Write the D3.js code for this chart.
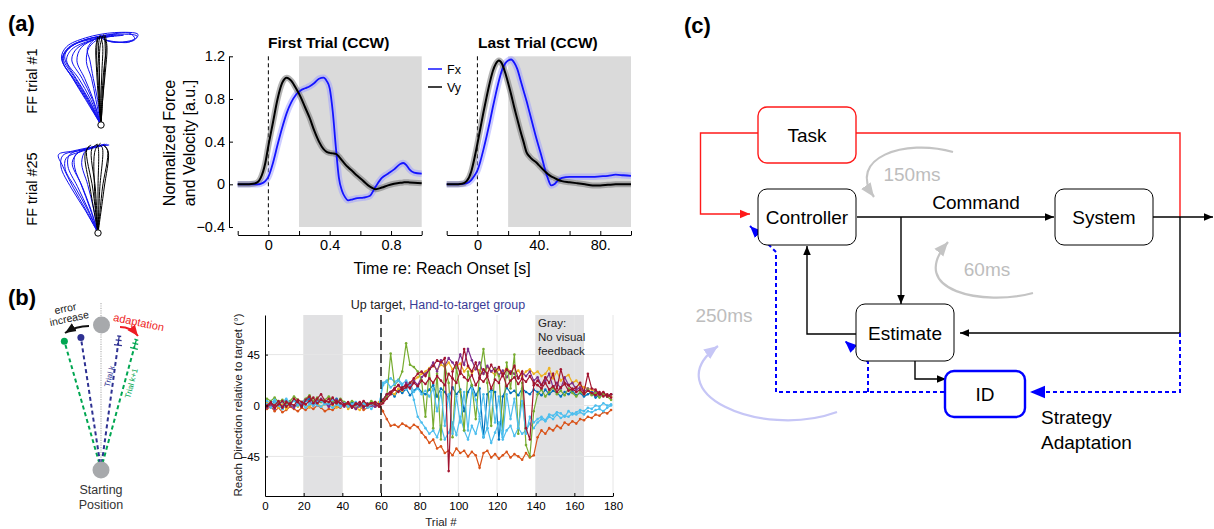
<!DOCTYPE html>
<html>
<head>
<meta charset="utf-8">
<script src="https://cdn.jsdelivr.net/npm/d3@7"></script>
<style>
  body { margin: 0; background: #fff; }
  svg { display: block; }
  text { font-family: "Liberation Sans", Arial, sans-serif; }
</style>
</head>
<body>
<svg id="fig" width="1214" height="529"></svg>
<script>
// ---------------- data ----------------

// (a) hand paths, cm relative to start (x right, y up)
const ff1Blue = [
  [[0,0],[-1.5,2.9],[-3,5.3],[-4.4,7.6],[-3.8,8.8],[-1.8,9.7],[1.5,10.3],[4.2,10.1],[3.2,9.4],[0.3,9.7]],
  [[0,0],[-1.2,2.9],[-2.6,5.3],[-4.0,7.3],[-3.4,8.6],[-1.2,9.6],[1.0,10.1],[0.2,10]],
  [[0,0],[-1.0,2.9],[-2.2,5.3],[-3.4,7.4],[-2.8,8.7],[-0.8,9.7],[0.2,10]],
  [[0,0],[-1.7,2.9],[-3.2,5.2],[-4.5,7.3],[-4.2,8.3],[-2.6,9.4],[0.5,10.2],[3.4,10.4],[3.9,9.8],[1.5,9.4],[0.2,9.8]],
  [[0,0],[-0.6,2.9],[-1.1,5.3],[-1.7,7.2],[-1.4,8.8],[-0.3,9.8],[0.1,10]],
  [[0,0],[-1.4,2.9],[-2.9,5.3],[-4.2,7.5],[-4.0,8.4],[-2.4,9.5],[0.4,10.1],[2.6,10.2],[0.5,10]],
  [[0,0],[-0.9,2.9],[-1.9,5.3],[-2.8,7.3],[-2.3,8.8],[-0.6,9.8],[0.3,10.1]],
  [[0,0],[-1.6,2.9],[-3.1,5.2],[-4.4,7.1],[-4.3,8.0],[-3.2,9.1],[-0.8,9.8],[1.5,10.1],[0.2,10]],
  [[0,0],[-1.8,2.9],[-3.3,5.3],[-4.6,7.6],[-4.0,8.9],[-1.8,9.9],[1.6,10.5],[4.3,10.3],[3.8,9.6],[1.0,9.5],[0.1,9.9]],
  [[0,0],[-0.4,2.9],[-0.9,5.3],[-1.3,7.4],[-1.6,8.6],[-0.8,9.7],[0,10]]
]
const ff1Black = [
  [[0,0],[-0.2,3],[-0.4,6],[-0.5,8.5],[-0.3,9.9],[0,10.1]],
  [[0,0],[0.2,3],[0.4,6],[0.5,8.5],[0.3,10],[0,10]],
  [[0,0],[-0.1,3],[-0.2,6],[-0.3,9],[-0.1,10.2]],
  [[0,0],[0.1,3],[0.3,6],[0.6,9],[0.3,10.3]],
  [[0,0],[-0.3,3],[-0.5,6],[-0.6,8.8],[-0.4,10]],
  [[0,0],[0,3],[0.1,6],[0.2,9],[0,10]],
  [[0,0],[0.2,3],[0.5,6],[0.7,8.8],[0.5,10.2]],
  [[0,0],[-0.2,3],[-0.2,6],[-0.1,9],[0.2,10.1]]
]
const ff25Blue = [
  [[0,0],[-1.4,2.6],[-2.9,5.2],[-4.1,7.6],[-4.6,8.9],[-3,9.3],[-0.5,9.8],[1.2,10]],
  [[0,0],[-1.1,2.6],[-2.4,5.3],[-3.5,7.6],[-3.3,8.9],[-1.2,9.6],[0.8,10.1]],
  [[0,0],[-0.8,2.6],[-1.8,5.2],[-2.7,7.4],[-2.6,8.9],[-0.6,9.7],[0.5,10]],
  [[0,0],[-1.5,2.6],[-3.1,5.1],[-4.3,7.5],[-4.1,8.8],[-2,9.4],[0.3,9.9],[1.3,10]],
  [[0,0],[-0.9,2.7],[-2,5.6],[-3,8],[-2.2,9.2],[0,9.9]],
  [[0,0],[-0.5,2.7],[-1.2,5.5],[-1.9,8],[-1.4,9.4],[0.2,10]],
  [[0,0],[-1.2,2.6],[-2.6,5.1],[-3.8,7.2],[-3.7,8.5],[-1.8,9.3],[0,9.8],[1,10.1]]
]
const ff25Black = [
  [[0,0],[-0.6,5],[-1.3,9.5],[-0.8,10]],
  [[0,0],[0.5,5],[1.1,9.4],[0.6,10]],
  [[0,0],[-0.3,5],[-0.7,9.6],[0,10.1]],
  [[0,0],[0.2,5],[0.5,9.7],[0.2,10]],
  [[0,0],[-0.9,5],[-1.5,9],[-1,9.9]],
  [[0,0],[0,5],[0,9.8],[-0.2,10.1]],
  [[0,0],[0.7,5],[1.2,9.2],[0.8,9.9]],
  [[0,0],[-0.4,5],[-0.3,9.5],[0.3,10.2]]
]

// (a) first trial, time in s
const firstTime = [-0.2,-0.15,-0.1,-0.07,-0.05,-0.02,0,0.03,0.06,0.09,0.12,0.15,0.18,0.21,0.24,0.27,0.3,0.33,0.36,0.38,0.40,0.42,0.44,0.46,0.48,0.5,0.52,0.55,0.58,0.62,0.66,0.7,0.74,0.78,0.82,0.86,0.88,0.9,0.92,0.95,1.0]
const firstVy = [0,0,0.005,0.02,0.06,0.2,0.36,0.58,0.8,0.95,1.0,0.97,0.9,0.82,0.72,0.62,0.5,0.4,0.33,0.305,0.295,0.29,0.285,0.26,0.225,0.19,0.16,0.12,0.08,0.03,-0.02,-0.045,-0.03,-0.01,0.005,0.015,0.018,0.02,0.018,0.015,0.01]
const firstFx = [0,0,0,0,0.005,0.03,0.07,0.2,0.37,0.53,0.67,0.77,0.84,0.88,0.9,0.92,0.95,0.99,1.0,0.97,0.9,0.68,0.35,0.06,-0.06,-0.12,-0.15,-0.14,-0.13,-0.125,-0.11,-0.02,0.06,0.1,0.14,0.19,0.2,0.18,0.14,0.11,0.1]

// (a) last trial
const lastTime = [-20,-15,-10,-7,-4,-2,0,2,4,6,8,10,12,14,16,18,20,22,24,26,28,30,32,34,36,38,40,42,44,46,48,50,52,55,60,65,70,75,80,85,90,95,100]
const lastVy = [0,0,0.005,0.03,0.12,0.24,0.38,0.53,0.68,0.82,0.95,1.06,1.13,1.16,1.13,1.05,0.95,0.84,0.72,0.61,0.5,0.4,0.3,0.26,0.23,0.21,0.18,0.15,0.12,0.095,0.075,0.06,0.045,0.03,0.02,0.01,0,-0.01,-0.01,-0.005,0,0,0]
const lastFx = [0,0,0.002,0.01,0.04,0.08,0.13,0.22,0.33,0.45,0.58,0.72,0.85,0.97,1.07,1.13,1.16,1.17,1.14,1.08,0.98,0.88,0.78,0.67,0.56,0.45,0.35,0.25,0.14,0.05,-0.01,0,0.03,0.06,0.07,0.07,0.07,0.07,0.075,0.08,0.09,0.085,0.08]

// (b) reach angles in the sketch (deg, + = clockwise)
const errorAngles = [-16, -8.7]
const adaptAngles = [7.8, 15.3]

// (b) reach direction, every other trial
const trials = d3.range(1, 180, 2)
const feedbackOff = [[20, 40], [140, 165]]
const reachBlue = [2,-1,4,0,-3,3,1,5,2,-2,4,6,3,1,5,2,0,3,6,2,1,-1,3,0,2,-2,1,3,0,2,
  5,10,12,8,14,11,15,9,13,16,12,10,14,18,8,15,12,6,16,10,14,-5,12,18,9,15,-28,10,14,12,-30,8,16,11,13,9,15,12,10,14,
  12,9,14,10,13,11,8,12,10,13,9,11,8,10,12,7,9,11,8,10]
const reachOrange = [-3,-1,-5,-2,-6,-4,-1,-3,-5,-2,-4,-1,-3,0,-2,-5,-3,-4,-1,-2,1,-2,0,-3,-1,-4,-2,0,-1,1,
  -5,-12,-18,-17,-19,-16,-18,-20,-17,-19,-24,-28,-33,-30,-38,-36,-42,-40,-44,-38,-42,-40,-45,-41,-44,-55,-42,-40,-46,-43,-47,-44,-41,-46,-43,-45,-48,-42,-46,-44,
  -28,-22,-25,-20,-22,-18,-20,-15,-17,-14,-16,-12,-13,-10,-11,-8,-9,-6,-7,-4]
const reachYellow = [3,0,2,-2,1,-3,2,0,-1,3,1,-2,4,2,-1,1,3,0,-2,1,2,-3,0,-2,-4,1,-1,2,0,3,
  4,8,12,10,15,13,18,20,22,25,28,30,33,35,32,36,34,38,32,35,37,30,34,29,33,31,28,34,30,27,32,29,33,30,28,31,26,30,32,28,
  30,26,28,33,24,30,22,25,27,20,22,18,16,15,14,12,10,11,9,8]
const reachPurple = [-2,1,-3,2,-1,4,0,-2,3,1,5,3,0,4,6,2,-1,3,5,1,-1,2,0,-3,1,-2,2,0,-1,1,
  3,8,12,15,18,14,20,16,22,18,25,28,32,38,30,40,35,42,38,33,45,36,50,40,32,38,28,35,30,33,27,31,25,30,28,24,29,26,30,22,
  25,18,22,28,16,20,15,25,18,20,14,16,12,15,10,13,9,11,8,10]
const reachGreen = [6,4,7,3,5,2,4,8,5,3,6,9,4,7,3,5,8,4,2,6,3,1,4,2,0,3,1,4,2,1,
  3,8,46,18,22,30,55,36,34,30,22,-10,32,-20,28,-30,36,20,-28,34,12,-22,30,18,-12,28,50,20,-18,32,26,-22,38,15,45,-25,20,-35,-45,-5,
  10,14,8,12,16,10,13,9,15,11,8,12,10,14,9,11,7,10,8,5]
const reachCyanA = [1,-2,3,0,-3,1,2,-1,0,3,-2,1,4,0,-1,2,0,-2,1,-1,3,0,-2,1,-1,2,0,-3,1,0,
  20,22,24,21,23,19,22,18,5,-10,-15,-20,-25,-22,-28,-18,-30,-24,-15,-26,-10,-22,-30,-18,-25,-12,-28,-20,-33,-24,-15,-30,-22,-18,-27,-20,-25,-22,-16,-20,
  -15,-12,-14,-10,-12,-8,-11,-9,-10,-7,-8,-6,-8,-5,-6,-4,-3,-5,-2,0]
const reachCyanB = [4,2,5,1,3,6,2,4,1,3,5,2,0,3,4,1,2,5,3,0,2,-1,1,3,0,2,-2,1,3,0,
  18,21,16,19,22,17,14,20,12,15,10,13,8,15,-5,12,-18,10,-25,8,-15,12,-22,15,5,-10,10,-20,12,-15,8,-28,10,-12,6,-20,4,-25,-10,-15,
  -12,-10,-13,-8,-9,-6,-7,-10,-5,-8,-6,-4,-5,-2,-3,0,-1,2,0,1]
const reachRedA = [0,3,-2,1,4,-1,2,0,5,3,1,4,7,2,5,3,6,1,4,2,0,2,-2,1,3,-1,0,2,1,-1,
  2,6,10,14,12,16,18,15,20,17,22,19,24,20,26,22,18,28,24,20,30,25,22,27,18,24,21,26,15,23,20,28,17,22,25,19,24,21,26,20,
  18,15,20,14,17,12,16,19,13,15,12,14,10,13,11,9,12,8,10,7]
const reachRedB = [-1,2,0,4,-2,3,1,6,3,-1,5,8,2,6,10,4,3,7,2,5,1,3,-1,2,0,4,1,2,3,1,
  5,10,12,15,18,14,16,20,24,28,30,26,32,35,40,38,42,-58,30,38,28,50,35,30,38,25,32,28,36,30,34,26,32,28,35,24,30,-20,-30,18,
  22,18,25,20,28,15,32,20,18,14,16,20,12,28,15,14,10,12,8,10]
const reachSeries = [reachBlue, reachOrange, reachYellow, reachCyanA, reachPurple, reachGreen, reachCyanB, reachRedA, reachRedB]
const reachColors = ["#0072BD", "#D95319", "#EDB120", "#4DBEEE", "#7E2F8E", "#77AC30", "#4DBEEE", "#A2142F", "#A2142F"]

// (c) block diagram
const blocks = [
  { name: "Task", x: 758, y: 107, w: 98, h: 56, stroke: "#ff1a1a", sw: 1.4 },
  { name: "Controller", x: 758, y: 189, w: 98, h: 56, stroke: "#000", sw: 1 },
  { name: "System", x: 1055, y: 189, w: 98, h: 56, stroke: "#000", sw: 1 },
  { name: "Estimate", x: 856, y: 304, w: 98, h: 57, stroke: "#000", sw: 1 },
  { name: "ID", x: 945, y: 371, w: 80, h: 46, stroke: "#0000ff", sw: 2.4 }
]

// ---------------- drawing ----------------
const svg = d3.select("#fig")
const defs = svg.append("defs")
function marker(id, color, size) {
  defs.append("marker")
      .attr("id", id)
      .attr("viewBox", "0 0 10 10")
      .attr("refX", 10).attr("refY", 5)
      .attr("markerUnits", "userSpaceOnUse")
      .attr("markerWidth", size).attr("markerHeight", size)
      .attr("orient", "auto")
    .append("path")
      .attr("d", "M0,0.8 L10,5 L0,9.2 Z")
      .attr("fill", color)
}
marker("arK", "#000", 9)
marker("arR", "#ff1a1a", 10)
marker("arB", "#0000ff", 12)
marker("arBbig", "#0000ff", 15)
marker("arG", "#c4c4c4", 14)
marker("arL", "#c6c6f6", 14)
marker("arK2", "#111", 11)
marker("arRed2", "#ee1c24", 11)

function label(t, x, y) {
  svg.append("text").attr("x", x).attr("y", y)
    .attr("font-size", 22).attr("font-weight", "bold").text(t)
}
label("(a)", 8, 31)
label("(b)", 8, 305)
label("(c)", 684, 33)

// ---- (a) hand paths
function drawPaths(blue, black, cx, cy, title) {
  const x = d3.scaleLinear().domain([-5, 5]).range([cx - 43, cx + 43])
  const y = d3.scaleLinear().domain([0, 10]).range([cy, cy - 88])
  const line = d3.line().x(d => x(d[0])).y(d => y(d[1])).curve(d3.curveCatmullRom.alpha(0.5))
  const g = svg.append("g")
  g.selectAll(".b").data(blue).enter().append("path")
      .attr("d", line).attr("fill", "none").attr("stroke", "#1010f0").attr("stroke-width", 1)
  g.selectAll(".k").data(black).enter().append("path")
      .attr("d", line).attr("fill", "none").attr("stroke", "#000").attr("stroke-width", 1)
  g.append("circle").attr("cx", x(0)).attr("cy", y(0)).attr("r", 3.2)
      .attr("fill", "#fff").attr("stroke", "#000").attr("stroke-width", 1)
  svg.append("text")
      .attr("transform", `translate(37,${cy - 44}) rotate(-90)`)
      .attr("text-anchor", "middle").attr("font-size", 14.5).text(title)
}
drawPaths(ff1Blue, ff1Black, 101, 125, "FF trial #1")
drawPaths(ff25Blue, ff25Black, 98, 233, "FF trial #25")

// ---- (a) force / velocity profiles
const yForce = d3.scaleLinear().domain([-0.4, 1.2]).range([227, 56.3])

function drawProfile(opts) {
  const x = opts.x
  const g = svg.append("g")
  g.append("rect")
      .attr("x", x(opts.shade[0])).attr("y", yForce(1.2))
      .attr("width", x(opts.shade[1]) - x(opts.shade[0]))
      .attr("height", yForce(-0.4) - yForce(1.2))
      .attr("fill", "#dadada")
  g.append("line")
      .attr("x1", x(0)).attr("x2", x(0))
      .attr("y1", yForce(1.2)).attr("y2", yForce(-0.4))
      .attr("stroke", "#000").attr("stroke-dasharray", "4,3")
  const mk = vals => d3.line()
      .x((d, i) => x(opts.time[i])).y(d => yForce(d))
      .curve(d3.curveMonotoneX)(vals)
  // shaded error bands
  g.append("path").attr("d", mk(opts.fx)).attr("fill", "none")
      .attr("stroke", "#9b9bff").attr("stroke-opacity", 0.5).attr("stroke-width", 6.5)
      .attr("stroke-linejoin", "round")
  g.append("path").attr("d", mk(opts.vy)).attr("fill", "none")
      .attr("stroke", "#777").attr("stroke-opacity", 0.55).attr("stroke-width", 6)
      .attr("stroke-linejoin", "round")
  g.append("path").attr("d", mk(opts.fx)).attr("fill", "none")
      .attr("stroke", "#1414ff").attr("stroke-width", 1.8)
  g.append("path").attr("d", mk(opts.vy)).attr("fill", "none")
      .attr("stroke", "#000").attr("stroke-width", 2)

  const xAxis = d3.axisBottom(x).tickValues(opts.ticks)
      .tickSize(-4).tickSizeOuter(0).tickPadding(5)
      .tickFormat(d => opts.tickLabels[opts.ticks.indexOf(d)])
  const ax = g.append("g").attr("transform", "translate(0,235)").call(xAxis)
  ax.selectAll("text").attr("font-size", 14.5).attr("font-family", "Liberation Sans, Arial, sans-serif")

  svg.append("text")
      .attr("x", (x.range()[0] + x.range()[1]) / 2 - 1).attr("y", 48)
      .attr("text-anchor", "middle").attr("font-size", 15.5).attr("font-weight", "bold")
      .text(opts.title)
}

const xFirst = d3.scaleLinear().domain([-0.2, 1.0]).range([237.7, 421.7])
const xLast = d3.scaleLinear().domain([-20, 100]).range([446.7, 631])

drawProfile({ x: xFirst, time: firstTime, fx: firstFx, vy: firstVy, shade: [0.2, 1.0],
  ticks: [-0.2, 0, 0.2, 0.4, 0.6, 0.8, 1.0], tickLabels: ["", "0", "", "0.4", "", "0.8", ""],
  title: "First Trial (CCW)" })
drawProfile({ x: xLast, time: lastTime, fx: lastFx, vy: lastVy, shade: [20, 100],
  ticks: [-20, 0, 20, 40, 60, 80, 100], tickLabels: ["", "0", "", "40.", "", "80.", ""],
  title: "Last Trial (CCW)" })

const yAx = svg.append("g").attr("transform", "translate(229,0)")
    .call(d3.axisLeft(yForce).tickValues([-0.4, 0, 0.4, 0.8, 1.2])
      .tickSize(-4).tickSizeOuter(0).tickPadding(4).tickFormat(d => d === 0 ? "0" : d3.format(".1f")(d)))
yAx.selectAll("text").attr("font-size", 14.5).attr("font-family", "Liberation Sans, Arial, sans-serif")

svg.append("text").attr("transform", "translate(175,143) rotate(-90)")
    .attr("text-anchor", "middle").attr("font-size", 16).text("Normalized Force")
svg.append("text").attr("transform", "translate(195,143) rotate(-90)")
    .attr("text-anchor", "middle").attr("font-size", 16).text("and Velocity [a.u.]")
svg.append("text").attr("x", 442).attr("y", 274)
    .attr("text-anchor", "middle").attr("font-size", 16).text("Time re: Reach Onset [s]")

// legend
const legend = svg.append("g")
;[["Fx", "#1414ff", 69], ["Vy", "#000", 87]].forEach(([t, c, yy]) => {
  legend.append("line").attr("x1", 428).attr("x2", 442).attr("y1", yy).attr("y2", yy)
      .attr("stroke", c).attr("stroke-width", 1.5)
  legend.append("text").attr("x", 447).attr("y", yy + 4.5).attr("font-size", 12.5).text(t)
})

// ---- (b) reach sketch
{
  const sx = 101, sy = 469
  const g = svg.append("g")
  g.append("line").attr("x1", sx).attr("x2", sx).attr("y1", 303).attr("y2", sy)
      .attr("stroke", "#b5b5b5").attr("stroke-width", 1.2).attr("stroke-dasharray", "1.2,1.2")
  const pos = (a, r) => [sx + r * Math.sin(a * Math.PI / 180), sy - r * Math.cos(a * Math.PI / 180)]
  const reachCols = ["#00a651", "#2e3192"]
  errorAngles.forEach((a, i) => {
    const [px, py] = pos(a, 133)
    const [qx, qy] = pos(a, 6)
    g.append("line").attr("x1", qx).attr("y1", qy).attr("x2", px).attr("y2", py)
        .attr("stroke", reachCols[i]).attr("stroke-width", 2).attr("stroke-dasharray", "4,3")
    g.append("circle").attr("cx", px).attr("cy", py).attr("r", 3.5).attr("fill", reachCols[i])
  })
  const adaptCols = ["#2e3192", "#00a651"]
  adaptAngles.forEach((a, i) => {
    const [px, py] = pos(a, 127)
    const [qx, qy] = pos(a, 6)
    g.append("line").attr("x1", qx).attr("y1", qy).attr("x2", px).attr("y2", py)
        .attr("stroke", adaptCols[i]).attr("stroke-width", 2).attr("stroke-dasharray", "4,3")
    const m = g.append("g").attr("transform", `translate(${px},${py}) rotate(${a})`)
      .attr("stroke", adaptCols[i]).attr("stroke-width", 1.3).attr("fill", "none")
    m.append("line").attr("x1", -4).attr("x2", 4).attr("y1", 2).attr("y2", 2)
    m.append("line").attr("x1", 0).attr("x2", 0).attr("y1", 2).attr("y2", -7)
    m.append("line").attr("x1", -3).attr("x2", 3).attr("y1", -3).attr("y2", -3)
    m.append("line").attr("x1", -2).attr("x2", 2).attr("y1", -7).attr("y2", -7)
  })
  g.append("circle").attr("cx", sx + 0.5).attr("cy", 325).attr("r", 8.5).attr("fill", "#a7a9ac")
  g.append("circle").attr("cx", sx).attr("cy", sy + 1).attr("r", 8.5).attr("fill", "#a7a9ac")

  g.append("path").attr("d", "M89,326 Q76,326 65,333").attr("fill", "none")
      .attr("stroke", "#111").attr("stroke-width", 2).attr("marker-end", "url(#arK2)")
  g.append("path").attr("d", "M120,327 Q131,327 138,336").attr("fill", "none")
      .attr("stroke", "#ee1c24").attr("stroke-width", 2).attr("marker-end", "url(#arRed2)")

  g.append("text").attr("transform", "translate(66,312) rotate(-12)").attr("text-anchor", "middle")
      .attr("font-size", 10.5).attr("fill", "#222").text("error")
  g.append("text").attr("transform", "translate(70,322) rotate(-12)").attr("text-anchor", "middle")
      .attr("font-size", 10.5).attr("fill", "#222").text("increase")
  g.append("text").attr("transform", "translate(138,326) rotate(12)").attr("text-anchor", "middle")
      .attr("font-size", 11).attr("fill", "#ee1c24").text("adaptation")
  g.append("text").attr("transform", "translate(112,377) rotate(-76)").attr("text-anchor", "middle")
      .attr("font-size", 8).attr("fill", "#2e3192").text("Trial k")
  g.append("text").attr("transform", "translate(134,384) rotate(-75)").attr("text-anchor", "middle")
      .attr("font-size", 8).attr("fill", "#00a651").text("Trial k+1")
  g.append("text").attr("x", sx).attr("y", 494).attr("text-anchor", "middle")
      .attr("font-size", 12.5).attr("fill", "#333").text("Starting")
  g.append("text").attr("x", sx).attr("y", 509).attr("text-anchor", "middle")
      .attr("font-size", 12.5).attr("fill", "#333").text("Position")
}

// ---- (b) reach direction plot
{
  const x = d3.scaleLinear().domain([0, 180]).range([265, 613])
  const y = d3.scaleLinear().domain([-80, 80]).range([496, 315])
  const g = svg.append("g")
  g.selectAll(".shade").data(feedbackOff).enter().append("rect")
      .attr("x", d => x(d[0])).attr("width", d => x(d[1]) - x(d[0]))
      .attr("y", y(80)).attr("height", y(-80) - y(80)).attr("fill", "#e1e1e3")
  g.selectAll(".vg").data(d3.range(20, 181, 20)).enter().append("line")
      .attr("x1", d => x(d)).attr("x2", d => x(d)).attr("y1", y(80)).attr("y2", y(-80))
      .attr("stroke", "#e6e6e6").attr("stroke-width", 1)
  g.selectAll(".hg").data([-45, 0, 45]).enter().append("line")
      .attr("x1", x(0)).attr("x2", x(180)).attr("y1", d => y(d)).attr("y2", d => y(d))
      .attr("stroke", "#e6e6e6").attr("stroke-width", 1)

  const line = d3.line().x((d, i) => x(trials[i])).y(d => y(d))
  reachSeries.forEach((s, k) => {
    g.append("path").attr("d", line(s)).attr("fill", "none")
        .attr("stroke", reachColors[k]).attr("stroke-width", 1.2)
    g.selectAll(null).data(s).enter().append("circle")
        .attr("cx", (d, i) => x(trials[i])).attr("cy", d => y(d)).attr("r", 1.3)
        .attr("fill", reachColors[k])
  })

  g.append("line").attr("x1", x(60)).attr("x2", x(60)).attr("y1", y(80)).attr("y2", y(-80))
      .attr("stroke", "#000").attr("stroke-width", 1.3).attr("stroke-dasharray", "9,4")

  g.append("g").attr("transform", `translate(0,${y(-80)})`)
      .call(d3.axisBottom(x).tickValues(d3.range(0, 181, 20)).tickSize(-3).tickSizeOuter(0).tickPadding(6))
  g.append("g").attr("transform", `translate(${x(0)},0)`)
      .call(d3.axisLeft(y).tickValues([-45, 0, 45]).tickSize(-3).tickSizeOuter(0).tickPadding(5))
  g.selectAll(".tick text").attr("font-size", 11.5).attr("font-family", "Liberation Sans, Arial, sans-serif")

  const t = g.append("text").attr("x", 438).attr("y", 309).attr("text-anchor", "middle").attr("font-size", 12.5)
  t.append("tspan").attr("fill", "#222").text("Up target, ")
  t.append("tspan").attr("fill", "#3a3c96").text("Hand-to-target group")
  ;["Gray:", "No visual", "feedback"].forEach((s, i) => {
    g.append("text").attr("x", 538).attr("y", 327 + i * 14).attr("font-size", 11.5).attr("fill", "#222").text(s)
  })
  g.append("text").attr("transform", "translate(242,405) rotate(-90)").attr("text-anchor", "middle")
      .attr("font-size", 11.5).attr("fill", "#222").text("Reach Direction relative to target (°)")
  g.append("text").attr("x", 441).attr("y", 526).attr("text-anchor", "middle")
      .attr("font-size", 11.5).attr("fill", "#222").text("Trial #")
}

// ---- (c) block diagram
{
  const g = svg.append("g")
  const poly = (pts, color, width, mk, dash) => {
    const p = g.append("path").attr("d", d3.line()(pts)).attr("fill", "none")
        .attr("stroke", color).attr("stroke-width", width)
    if (mk) p.attr("marker-end", `url(#${mk})`)
    if (dash) p.attr("stroke-dasharray", dash)
  }
  // feedback delay arcs
  g.append("path").attr("d", "M953,152 C905,138 846,158 874,197").attr("fill", "none")
      .attr("stroke", "#c4c4c4").attr("stroke-width", 2.2).attr("marker-end", "url(#arG)")
  g.append("path").attr("d", "M1033,293 C985,306 905,292 948,242").attr("fill", "none")
      .attr("stroke", "#c4c4c4").attr("stroke-width", 2.2).attr("marker-end", "url(#arG)")
  g.append("path").attr("d", "M837,412 C760,440 655,392 718,346").attr("fill", "none")
      .attr("stroke", "#c6c6f6").attr("stroke-width", 2.2).attr("marker-end", "url(#arL)")

  // red task lines
  poly([[758, 133], [700.5, 133], [700.5, 214], [750, 214]], "#ff1a1a", 1.4, "arR")
  poly([[856, 133], [1180, 133], [1180, 217]], "#ff1a1a", 1.4)
  // black signal lines
  poly([[857, 217], [1054, 217]], "#000", 1.4, "arK")
  poly([[901, 217], [901, 304]], "#000", 1.4, "arK")
  poly([[1153, 217], [1213, 217]], "#000", 1.4, "arK")
  poly([[1180, 217], [1180, 333], [960, 333]], "#000", 1.4, "arK")
  poly([[856, 334], [807, 334], [807, 246]], "#000", 1.4, "arK")
  poly([[915, 361], [915, 379], [946, 379]], "#000", 1.4, "arK")
  // blue strategy loop
  poly([[1180, 333], [1180, 392], [1030, 392]], "#0000ff", 2, "arBbig", "4,3")
  poly([[944, 392], [776, 392], [776, 252], [750, 226]], "#0000ff", 2, "arB", "4,3")
  poly([[868, 392], [868, 362], [845, 341]], "#0000ff", 2, "arB", "4,3")

  const b = g.selectAll(".blk").data(blocks).enter().append("g")
  b.append("rect")
      .attr("x", d => d.x).attr("y", d => d.y).attr("width", d => d.w).attr("height", d => d.h)
      .attr("rx", 9).attr("fill", "#fff").attr("stroke", d => d.stroke).attr("stroke-width", d => d.sw)
  b.append("text")
      .attr("x", d => d.x + d.w / 2).attr("y", d => d.y + d.h / 2 + 7)
      .attr("text-anchor", "middle").attr("font-size", 19).text(d => d.name)

  g.append("text").attr("x", 976).attr("y", 209).attr("text-anchor", "middle").attr("font-size", 19).text("Command")
  g.append("text").attr("x", 912).attr("y", 181).attr("text-anchor", "middle").attr("font-size", 19).attr("fill", "#bdbdbd").text("150ms")
  g.append("text").attr("x", 987).attr("y", 276).attr("text-anchor", "middle").attr("font-size", 19).attr("fill", "#bdbdbd").text("60ms")
  g.append("text").attr("x", 724).attr("y", 322).attr("text-anchor", "middle").attr("font-size", 19).attr("fill", "#bdbdbd").text("250ms")
  g.append("text").attr("x", 1041).attr("y", 424).attr("font-size", 19).text("Strategy")
  g.append("text").attr("x", 1041).attr("y", 449).attr("font-size", 19).text("Adaptation")
}
</script>
</body>
</html>
